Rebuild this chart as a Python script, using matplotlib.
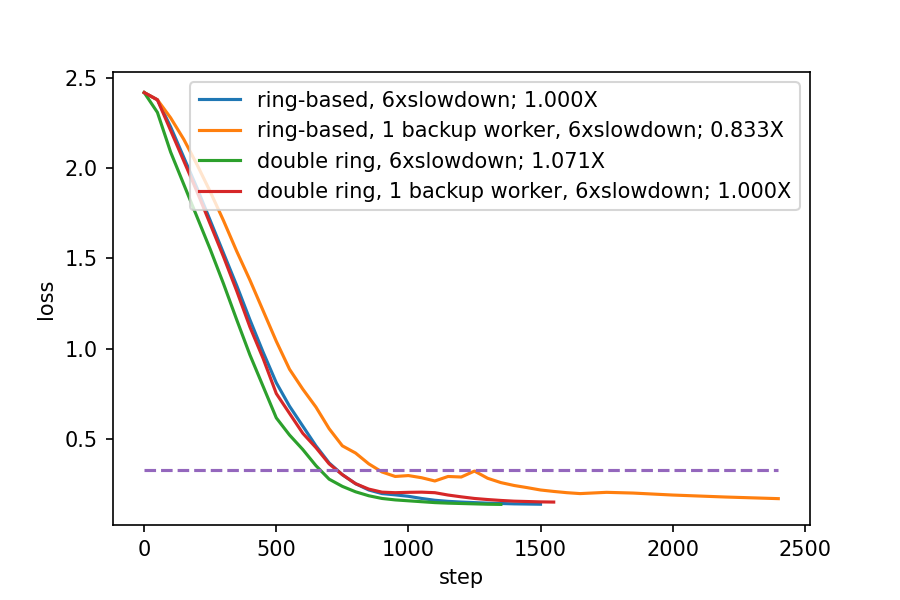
import matplotlib
matplotlib.use('Agg')
import matplotlib.pyplot as plt

# steps sampled every 50
steps_ring = list(range(0, 1501, 50))
loss_ring = [2.42, 2.38, 2.23, 2.06, 1.89, 1.71, 1.53, 1.35, 1.16, 0.98,
             0.81, 0.68, 0.57, 0.46, 0.365, 0.30, 0.25, 0.215, 0.195, 0.188,
             0.18, 0.168, 0.158, 0.152, 0.148, 0.145, 0.142, 0.140, 0.138, 0.137,
             0.136]

steps_ring_backup = list(range(0, 1651, 50)) + [1750, 1850, 2000, 2200, 2400]
loss_ring_backup = [2.42, 2.38, 2.28, 2.16, 2.02, 1.87, 1.71, 1.54, 1.38, 1.21,
                    1.04, 0.885, 0.775, 0.675, 0.555, 0.46, 0.42, 0.36, 0.315, 0.29,
                    0.295, 0.283, 0.265, 0.29, 0.287, 0.32, 0.28, 0.256, 0.24, 0.228,
                    0.215, 0.207, 0.20, 0.195, 0.202, 0.198, 0.187, 0.176, 0.167]

steps_double = list(range(0, 1351, 50))
loss_double = [2.42, 2.31, 2.09, 1.91, 1.73, 1.55, 1.36, 1.16, 0.965, 0.79,
               0.615, 0.52, 0.44, 0.35, 0.275, 0.235, 0.205, 0.183, 0.168, 0.16,
               0.155, 0.15, 0.145, 0.142, 0.14, 0.138, 0.136, 0.135]

steps_double_backup = list(range(0, 1551, 50))
loss_double_backup = [2.42, 2.38, 2.21, 2.04, 1.87, 1.69, 1.51, 1.32, 1.12, 0.945,
                      0.75, 0.64, 0.53, 0.45, 0.36, 0.30, 0.25, 0.22, 0.203, 0.20,
                      0.202, 0.203, 0.20, 0.187, 0.177, 0.168, 0.162, 0.157, 0.153, 0.151,
                      0.149, 0.148]

target_steps = [0, 2400]
target_loss = [0.327, 0.327]

labels = ['ring-based, 6xslowdown; 1.000X',
          'ring-based, 1 backup worker, 6xslowdown; 0.833X',
          'double ring, 6xslowdown; 1.071X',
          'double ring, 1 backup worker, 6xslowdown; 1.000X']

fig = plt.figure(figsize=(6, 4), dpi=150)
fig.subplots_adjust(left=0.125, right=0.9, top=0.88, bottom=0.125)
plt.plot(steps_ring, loss_ring, label=labels[0])
plt.plot(steps_ring_backup, loss_ring_backup, label=labels[1])
plt.plot(steps_double, loss_double, label=labels[2])
plt.plot(steps_double_backup, loss_double_backup, label=labels[3])
plt.plot(target_steps, target_loss, '--')
plt.xlabel('step')
plt.ylabel('loss')
plt.legend(loc='upper right')
plt.savefig('out.png')
